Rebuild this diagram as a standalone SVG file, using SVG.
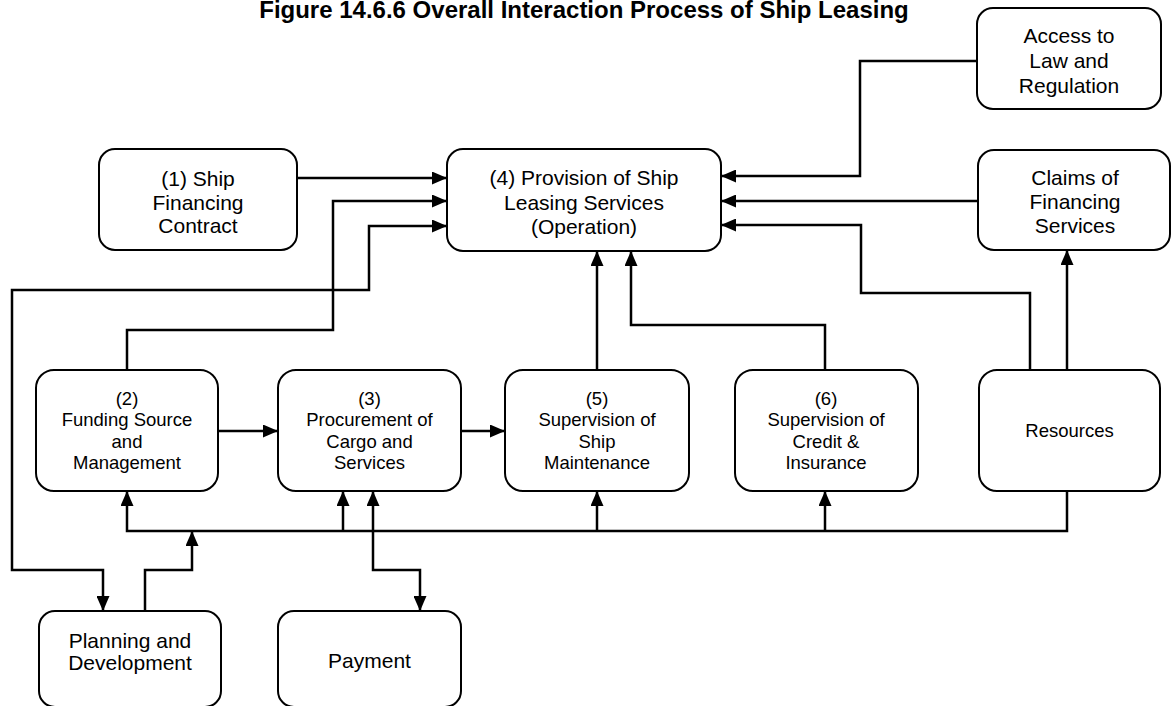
<svg xmlns="http://www.w3.org/2000/svg" width="1171" height="706" viewBox="0 0 1171 706">
  <style>
    .box { fill: #ffffff; stroke: #000000; stroke-width: 2; }
    .lbl { font-family: "Liberation Sans", Arial, sans-serif; font-size: 21px; fill: #000000; text-anchor: middle; }
    .lbl-s { font-family: "Liberation Sans", Arial, sans-serif; font-size: 18.5px; fill: #000000; text-anchor: middle; }
    .title { font-family: "Liberation Sans", Arial, sans-serif; font-size: 24px; font-weight: bold; fill: #000000; text-anchor: middle; }
    .wire { fill: none; stroke: #000000; stroke-width: 2.5; stroke-linejoin: miter; }
    .to { marker-end: url(#head); }
    .both { marker-start: url(#head); marker-end: url(#head); }
  </style>
  <defs>
    <marker id="head" viewBox="0 0 15 13" refX="15" refY="6.5" markerWidth="15" markerHeight="13" markerUnits="userSpaceOnUse" orient="auto-start-reverse">
      <path d="M0,0 L15,6.5 L0,13 Z" fill="#000000"/>
    </marker>
  </defs>

  <rect width="1171" height="706" fill="#ffffff"/>

  <text class="title" x="584" y="18">Figure 14.6.6 Overall Interaction Process of Ship Leasing</text>

  <!-- connectors -->
  <g id="connectors">
    <path class="wire to" d="M297,178 H447"/>
    <path class="wire to" d="M127,370 V330 H333 V201 H447"/>
    <path class="wire both" d="M447,226 H369 V290 H12 V570 H103 V611"/>
    <path class="wire to" d="M977,61 H860 V176 H721"/>
    <path class="wire to" d="M978,201 H721"/>
    <path class="wire to" d="M1030,370 V293 H861 V225 H721"/>
    <path class="wire to" d="M1067,370 V250"/>
    <path class="wire to" d="M597,370 V251"/>
    <path class="wire to" d="M825,370 V325 H631 V251"/>
    <path class="wire to" d="M218,431 H278"/>
    <path class="wire to" d="M461,431 H505"/>
    <path class="wire to" d="M1067,491 V531 H127 V491"/>
    <path class="wire to" d="M343,531 V491"/>
    <path class="wire to" d="M597,531 V491"/>
    <path class="wire to" d="M825,531 V491"/>
    <path class="wire to" d="M145,611 V570 H192 V531"/>
    <path class="wire both" d="M373,491 V570 H420 V611"/>
  </g>

  <!-- nodes -->
  <g id="n1">
    <rect class="box" x="99" y="149" width="198" height="101" rx="16"/>
    <text class="lbl" x="198" y="186">(1) Ship</text>
    <text class="lbl" x="198" y="209.5">Financing</text>
    <text class="lbl" x="198" y="233">Contract</text>
  </g>
  <g id="n4">
    <rect class="box" x="447" y="149" width="274" height="102" rx="16"/>
    <text class="lbl" x="584" y="185">(4) Provision of Ship</text>
    <text class="lbl" x="584" y="209.5">Leasing Services</text>
    <text class="lbl" x="584" y="234">(Operation)</text>
  </g>
  <g id="access">
    <rect class="box" x="977" y="8" width="184" height="101" rx="16"/>
    <text class="lbl" x="1069" y="43">Access to</text>
    <text class="lbl" x="1069" y="68">Law and</text>
    <text class="lbl" x="1069" y="93">Regulation</text>
  </g>
  <g id="claims">
    <rect class="box" x="978" y="150" width="192" height="100" rx="16"/>
    <text class="lbl" x="1075" y="184.5">Claims of</text>
    <text class="lbl" x="1075" y="208.5">Financing</text>
    <text class="lbl" x="1075" y="232.5">Services</text>
  </g>
  <g id="n2">
    <rect class="box" x="36" y="370" width="182" height="121" rx="18"/>
    <text class="lbl-s" x="127" y="405">(2)</text>
    <text class="lbl-s" x="127" y="426">Funding Source</text>
    <text class="lbl-s" x="127" y="447.5">and</text>
    <text class="lbl-s" x="127" y="469">Management</text>
  </g>
  <g id="n3">
    <rect class="box" x="278" y="370" width="183" height="121" rx="18"/>
    <text class="lbl-s" x="369.5" y="405">(3)</text>
    <text class="lbl-s" x="369.5" y="426">Procurement of</text>
    <text class="lbl-s" x="369.5" y="447.5">Cargo and</text>
    <text class="lbl-s" x="369.5" y="469">Services</text>
  </g>
  <g id="n5">
    <rect class="box" x="505" y="370" width="184" height="121" rx="18"/>
    <text class="lbl-s" x="597" y="405">(5)</text>
    <text class="lbl-s" x="597" y="426">Supervision of</text>
    <text class="lbl-s" x="597" y="447.5">Ship</text>
    <text class="lbl-s" x="597" y="469">Maintenance</text>
  </g>
  <g id="n6">
    <rect class="box" x="735" y="370" width="183" height="121" rx="18"/>
    <text class="lbl-s" x="826" y="405">(6)</text>
    <text class="lbl-s" x="826" y="426">Supervision of</text>
    <text class="lbl-s" x="826" y="447.5">Credit &amp;</text>
    <text class="lbl-s" x="826" y="469">Insurance</text>
  </g>
  <g id="resources">
    <rect class="box" x="979" y="370" width="181" height="121" rx="18"/>
    <text class="lbl-s" x="1069.5" y="437">Resources</text>
  </g>
  <g id="planning">
    <rect class="box" x="39" y="611" width="182" height="96" rx="16"/>
    <text class="lbl" x="130" y="647.5">Planning and</text>
    <text class="lbl" x="130" y="669.5">Development</text>
  </g>
  <g id="payment">
    <rect class="box" x="278" y="611" width="183" height="96" rx="16"/>
    <text class="lbl" x="369.5" y="667.5">Payment</text>
  </g>
</svg>
